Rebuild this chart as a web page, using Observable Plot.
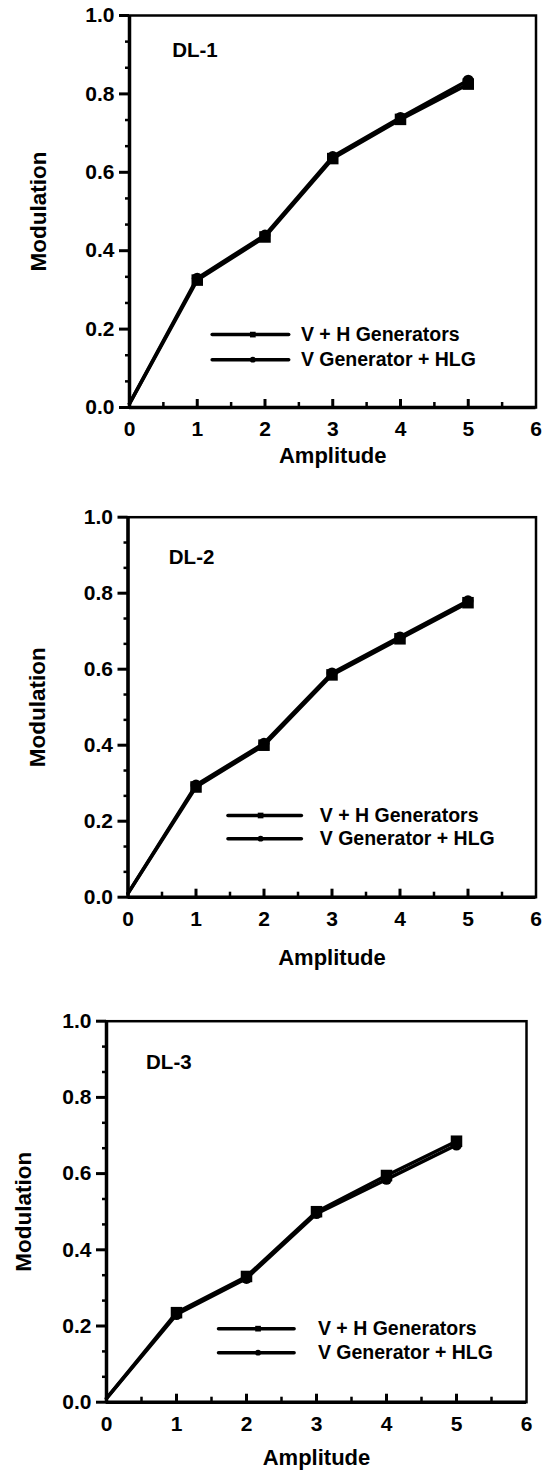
<!DOCTYPE html>
<html><head><meta charset="utf-8">
<script src="https://cdn.jsdelivr.net/npm/d3@7"></script>
<script src="https://cdn.jsdelivr.net/npm/@observablehq/plot@0.6"></script>
<style>
html,body{margin:0;padding:0;background:#fff;}
#wrap{position:relative;width:542px;height:1477px;overflow:hidden;background:#fff;}
#wrap svg{position:absolute;left:0;}
</style></head><body><div id="wrap"></div>
<script>
// ---- data ----
const amplitude = [0, 1, 2, 3, 4, 5];
const panelNames = ["DL-1", "DL-2", "DL-3"];
const seriesNames = ["V + H Generators", "V Generator + HLG"];
const dl1VH  = [0.01, 0.325, 0.435, 0.635, 0.735, 0.825];
const dl1HLG = [0.01, 0.33, 0.44, 0.64, 0.74, 0.835];
const dl2VH  = [0.01, 0.29, 0.40, 0.585, 0.68, 0.775];
const dl2HLG = [0.01, 0.295, 0.405, 0.59, 0.685, 0.78];
const dl3VH  = [0.01, 0.235, 0.33, 0.50, 0.595, 0.685];
const dl3HLG = [0.01, 0.23, 0.325, 0.495, 0.585, 0.675];
const xTicks = [0, 1, 2, 3, 4, 5, 6];
const xMinorTicks = [0.5, 1.5, 2.5, 3.5, 4.5, 5.5];
const yTicks = [0, 0.2, 0.4, 0.6, 0.8, 1.0];
const xLabel = "Amplitude";
const yLabel = "Modulation";

const seriesVH = [dl1VH, dl2VH, dl3VH];
const seriesHLG = [dl1HLG, dl2HLG, dl3HLG];
const yMinorTicks = d3.range(1, 15).filter(k => k % 3 !== 0).map(k => k / 15);

// ---- layout ----
const layouts = [
  {top: 0,   height: 490, mt: 15,   mb: 83,   ml: 129,   mr: 6.5, titleDx: -91, ampDy: 55, tag: [0.63, 0.91],  leg: {x1: 1.22, x2: 2.35, xm: 1.82,  xt: 2.53, y: [0.186, 0.122]}},
  {top: 490, height: 490, mt: 26.7, mb: 83.3, ml: 127.5, mr: 6.5, titleDx: -90, ampDy: 68, tag: [0.60, 0.895], leg: {x1: 1.47, x2: 2.55, xm: 1.95,  xt: 2.82, y: [0.215, 0.154]}},
  {top: 980, height: 497, mt: 40.7, mb: 75.3, ml: 106,   mr: 16,  titleDx: -83, ampDy: 63, tag: [0.565, 0.892], leg: {x1: 1.60, x2: 2.68, xm: 2.165, xt: 3.02, y: [0.193, 0.130]}}
];

function panel(i) {
  const L = layouts[i];
  const vh = amplitude.map((a, j) => ({x: a, y: seriesVH[i][j]}));
  const hlg = amplitude.map((a, j) => ({x: a, y: seriesHLG[i][j]}));
  const lg = L.leg;
  const legLines = seriesNames.flatMap((s, k) => [{s, x: lg.x1, y: lg.y[k]}, {s, x: lg.x2, y: lg.y[k]}]);
  const legItems = seriesNames.map((s, k) => ({s, k, xm: lg.xm, xt: lg.xt, y: lg.y[k]}));
  const svg = Plot.plot({
    width: 542, height: L.height,
    marginTop: L.mt, marginBottom: L.mb, marginLeft: L.ml, marginRight: L.mr,
    style: {fontFamily: "'Liberation Sans', Arial, sans-serif", fontWeight: "bold", background: "#fff", color: "#000", overflow: "visible"},
    x: {domain: [0, 6]},
    y: {domain: [0, 1]},
    marks: [
      Plot.frame({stroke: "#000", strokeWidth: 2.5}),
      Plot.ruleX([0], {stroke: "#000", strokeWidth: 3.5}),
      Plot.ruleY([0], {stroke: "#000", strokeWidth: 3.5}),
      Plot.axisY(yMinorTicks, {tickSize: 4, tickFormat: () => "", strokeWidth: 2.5, label: null}),
      Plot.axisY(yTicks, {tickSize: 10, tickPadding: 5, tickFormat: d3.format(".1f"), fontSize: 21, strokeWidth: 3, label: null}),
      Plot.ruleX(xMinorTicks, {y1: 0, y2: 0, insetTop: -5, stroke: "#000", strokeWidth: 2.5}),
      Plot.ruleX(xTicks.slice(1, -1), {y1: 0, y2: 0, insetTop: -8, stroke: "#000", strokeWidth: 3}),
      Plot.axisX(xTicks, {tickSize: 0, tickPadding: 14, fontSize: 21, label: null}),
      Plot.text([yLabel], {frameAnchor: "left", textAnchor: "middle", dx: L.titleDx, rotate: -90, fontSize: 22.5, fontWeight: "bold"}),
      Plot.text([xLabel], {frameAnchor: "bottom", textAnchor: "middle", dy: L.ampDy, fontSize: 22, fontWeight: "bold"}),
      Plot.text([panelNames[i]], {x: () => L.tag[0], y: () => L.tag[1], textAnchor: "start", fontSize: 20.5, fontWeight: "bold"}),
      Plot.line(hlg, {x: "x", y: "y", stroke: "#000", strokeWidth: 3.5}),
      Plot.line(vh, {x: "x", y: "y", stroke: "#000", strokeWidth: 3.5}),
      Plot.dot(hlg.filter(d => d.x > 0), {x: "x", y: "y", symbol: "circle", r: 5.5, fill: "#000"}),
      Plot.dot(vh.filter(d => d.x > 0), {x: "x", y: "y", symbol: "square", r: 6.5, fill: "#000"}),
      Plot.line(legLines, {x: "x", y: "y", z: "s", stroke: "#000", strokeWidth: 3.5}),
      Plot.dot(legItems, {x: "xm", y: "y", symbol: d => d.k === 0 ? "square" : "circle", r: d => d.k === 0 ? 6 : 5, fill: "#000"}),
      Plot.text(legItems, {x: "xt", y: "y", text: "s", textAnchor: "start", fontSize: 19.5, fontWeight: "bold"})
    ]
  });
  svg.style.top = L.top + "px";
  return svg;
}

const wrap = document.getElementById("wrap");
for (let i = 0; i < 3; i++) wrap.appendChild(panel(i));
</script>
</body></html>
